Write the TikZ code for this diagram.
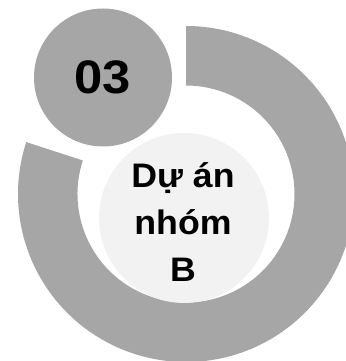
\documentclass[tikz,border=0pt]{standalone}
\usepackage{fontspec}
\setmainfont{Liberation Sans}
\definecolor{ringgray}{HTML}{A6A6A6}
\definecolor{lightfill}{HTML}{F2F2F2}
\begin{document}
\begin{tikzpicture}[x=1pt,y=1pt,
  numdisc/.style={circle, fill=ringgray, inner sep=0pt, minimum size=138pt,
    font=\bfseries\fontsize{47}{47}\selectfont},
  middisc/.style={circle, fill=lightfill, inner sep=0pt, minimum size=170pt},
  midlabel/.style={align=center, inner sep=0pt,
    font=\bfseries\fontsize{34}{47}\selectfont}]
\useasboundingbox (0,0) rectangle (345,361);
\coordinate (c) at (186,167);
\fill[ringgray] ([shift={(90:168pt)}]c) arc[start angle=90, end angle=-198, radius=168pt]
  -- ([shift={(-198:108.5pt)}]c) arc[start angle=-198, end angle=90, radius=108.5pt] -- cycle;
\node[middisc] (mid) at (184,143) {};
\node[midlabel] (label) at (183,139) {\scalebox{1.05}[1]{Dự án}\\\scalebox{1.05}[1]{nhóm}\\\scalebox{1.05}[1]{B}};
\node[numdisc] (num) at (103,283.5) {\scalebox{1.08}[1]{03}};
\end{tikzpicture}
\end{document}
